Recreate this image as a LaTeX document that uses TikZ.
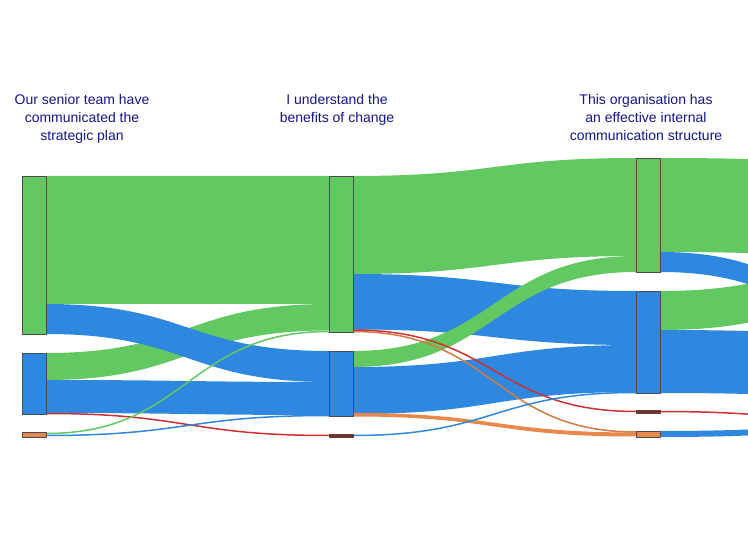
\documentclass[tikz,border=0pt]{standalone}
\usepackage{fontspec}
\setmainfont{Liberation Sans}
\usetikzlibrary{positioning}
\definecolor{sgreen}{RGB}{98,200,98}
\definecolor{sblue}{RGB}{46,136,224}
\definecolor{sorange}{RGB}{232,136,74}
\definecolor{sred}{RGB}{208,48,48}
\definecolor{snavy}{RGB}{20,20,140}
% ribbon: colour, x1, top1, bottom1, x2, top2, bottom2
\newcommand{\ribbon}[7]{%
  \pgfmathsetmacro{\xm}{(#2+#5)/2}
  \fill[#1] (#2,#3) .. controls (\xm,#3) and (\xm,#6) .. (#5,#6) -- (#5,#7)
    .. controls (\xm,#7) and (\xm,#4) .. (#2,#4) -- cycle;}
% thin link: colour, x1, y1, x2, y2
\newcommand{\thinlink}[5]{%
  \pgfmathsetmacro{\xm}{(#2+#4)/2}
  \draw[#1, line width=1.5pt] (#2,#3) .. controls (\xm,#3) and (\xm,#5) .. (#4,#5);}
\begin{document}
\begin{tikzpicture}[x=1pt, y=-1pt, bar/.style={draw=black!70, line width=0.6pt}, label/.style={text=snavy, align=center, font=\fontsize{14}{18}\selectfont}]
\useasboundingbox (0,0) rectangle (748,556);
\begin{scope}
\clip (0,0) rectangle (748,556);

% Flows, first to second column
\ribbon{sgreen}{46}{176}{304}{329}{176}{304}
\ribbon{sgreen}{46}{353}{380}{329}{304}{330.5}
\ribbon{sblue}{46}{304}{334}{329}{351}{382}
\ribbon{sblue}{46}{380}{413}{329}{382}{415}
\thinlink{sred}{46}{413.5}{329}{435.5}
\thinlink{sgreen}{46}{433.5}{329}{331.5}
\thinlink{sblue}{46}{435.5}{329}{415.5}

% Flows, second to third column
\ribbon{sgreen}{353}{176}{274}{636}{158}{256}
\ribbon{sblue}{353}{274}{329.5}{636}{291}{345}
\ribbon{sblue}{353}{367}{414}{636}{345}{392}
\ribbon{sgreen}{353}{351}{367}{636}{256}{272}
\ribbon{sorange}{353}{413}{416.5}{636}{432.5}{436.5}
\thinlink{sred}{353}{330}{636}{411.5}
\thinlink{sorange!90!black}{353}{331.5}{636}{432}
\thinlink{sblue}{353}{435.5}{636}{392.5}

% Flows leaving the third column
\ribbon{sgreen}{660}{158}{252}{900}{162}{256}
\ribbon{sblue}{660}{252}{272}{900}{300}{320}
\ribbon{sgreen}{660}{291}{330}{900}{262}{301}
\ribbon{sblue}{660}{330}{393}{900}{334}{397}
\thinlink{sred}{660}{411.5}{900}{422}
\ribbon{sblue}{660}{431}{437}{900}{425}{431}
\end{scope}

% Column nodes
\filldraw[bar, fill=sgreen] (22,176) rectangle (46,334);
\filldraw[bar, fill=sblue] (22,353) rectangle (46,414);
\filldraw[bar, fill=sorange] (22,432) rectangle (46,437);
\filldraw[bar, fill=sgreen] (329,176) rectangle (353,332);
\filldraw[bar, fill=sblue] (329,351) rectangle (353,416);
\filldraw[bar, fill=sred!70!black] (329,434) rectangle (353,437);
\filldraw[bar, fill=sgreen] (636,158) rectangle (660,272);
\filldraw[bar, fill=sblue] (636,291) rectangle (660,393);
\filldraw[bar, fill=sred!70!black] (636,410) rectangle (660,413);
\filldraw[bar, fill=sorange] (636,431) rectangle (660,437);

% Column titles
\node[label, anchor=north] (title1) at (82,91) {Our senior team have\\communicated the\\strategic plan};
\node[label, anchor=north] (title2) at (337,91) {I understand the\\benefits of change};
\node[label, anchor=north] (title3) at (646,91) {This organisation has\\an effective internal\\communication structure};
\end{tikzpicture}
\end{document}
